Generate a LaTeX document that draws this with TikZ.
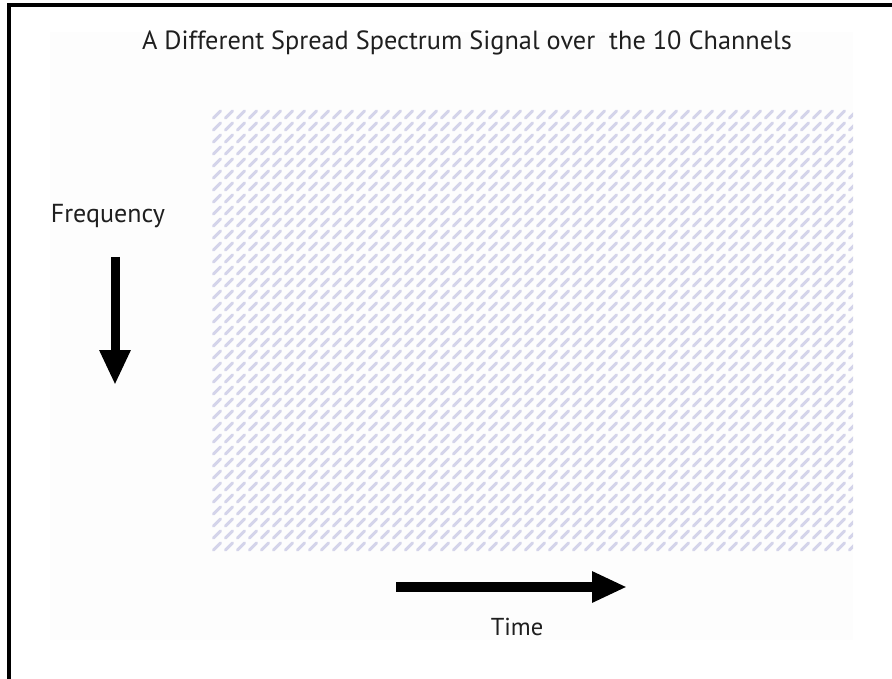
\documentclass[tikz,border=0pt]{standalone}
\usepackage{fontspec}
\setmainfont{PT Sans}
\usetikzlibrary{arrows.meta}
\definecolor{hatchc}{RGB}{212,212,234}
\definecolor{bgc}{RGB}{253,253,253}
\tikzset{
  lbl/.style={inner sep=0pt, text=black!88},
  hatch/.style={draw=hatchc, line width=3pt, line cap=round},
  bigarrow/.style={line width=#1, -{Triangle[width=29pt,length=35pt]}},
  frame/.style={line width=4pt, draw=black}
}
\begin{document}
\begin{tikzpicture}[x=1pt,y=-1pt]
\useasboundingbox (0,0) rectangle (892,679);
\fill[bgc] (50,32) rectangle (853,640);
\draw[frame] (9,679) -- (9,5) -- (892,5);
\node[lbl, font=\fontsize{26.3}{30}\selectfont] (title) at (467,43) {A Different Spread Spectrum Signal over\ \ the 10 Channels};
\begin{scope}
\clip (212,107) rectangle (853,552);
\draw[hatch] foreach \i in {-1,...,54} { foreach \j in {0,...,37} { (212+12*\i+1.5, 118+12*\j) -- ++(7,-7) } };
\end{scope}
\node[lbl, font=\fontsize{26}{30}\selectfont] (freq) at (108,216) {Frequency};
\coordinate (f1) at (115,257);
\coordinate (f2) at (115,385);
\draw[bigarrow=9pt] (f1) -- (f2);
\coordinate (t1) at (396,587);
\coordinate (t2) at (627,587);
\draw[bigarrow=10pt] (t1) -- (t2);
\node[lbl, font=\fontsize{24.5}{28}\selectfont] (time) at (517,627) {Time};
\end{tikzpicture}
\end{document}
